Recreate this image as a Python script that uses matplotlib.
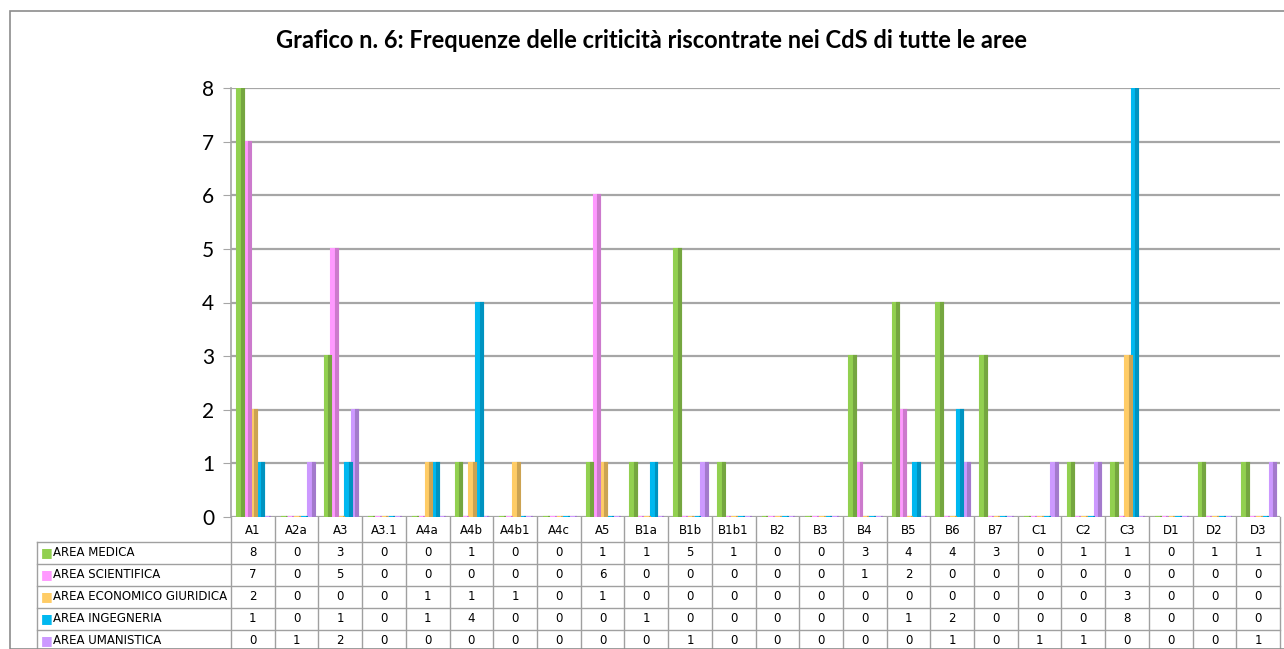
import numpy as np
import matplotlib
matplotlib.use('Agg')
import matplotlib.pyplot as plt
from matplotlib.colors import to_rgb

# Dati
categorie = ["A1", "A2a", "A3", "A3.1", "A4a", "A4b", "A4b1", "A4c", "A5", "B1a", "B1b", "B1b1",
             "B2", "B3", "B4", "B5", "B6", "B7", "C1", "C2", "C3", "D1", "D2", "D3"]
area_medica = [8, 0, 3, 0, 0, 1, 0, 0, 1, 1, 5, 1, 0, 0, 3, 4, 4, 3, 0, 1, 1, 0, 1, 1]
area_scientifica = [7, 0, 5, 0, 0, 0, 0, 0, 6, 0, 0, 0, 0, 0, 1, 2, 0, 0, 0, 0, 0, 0, 0, 0]
area_economico = [2, 0, 0, 0, 1, 1, 1, 0, 1, 0, 0, 0, 0, 0, 0, 0, 0, 0, 0, 0, 3, 0, 0, 0]
area_ingegneria = [1, 0, 1, 0, 1, 4, 0, 0, 0, 1, 0, 0, 0, 0, 0, 1, 2, 0, 0, 0, 8, 0, 0, 0]
area_umanistica = [0, 1, 2, 0, 0, 0, 0, 0, 0, 0, 1, 0, 0, 0, 0, 0, 1, 0, 1, 1, 0, 0, 0, 1]

serie = ["AREA MEDICA", "AREA SCIENTIFICA", "AREA ECONOMICO GIURIDICA", "AREA INGEGNERIA", "AREA UMANISTICA"]
valori = [area_medica, area_scientifica, area_economico, area_ingegneria, area_umanistica]
colori = ["#92D050", "#FF99FF", "#FFCC66", "#00B8F0", "#CC99FF"]

titolo = "Grafico n. 6: Frequenze delle criticità riscontrate nei CdS di tutte le aree"


def scurisci(c, f=0.7):
    r, g, b = to_rgb(c)
    return (r * f, g * f, b * f)


W, H = 1284, 649
fig = plt.figure(figsize=(W / 100, H / 100), dpi=100)

# riquadro esterno del grafico
fig.add_artist(plt.Rectangle((9.5 / W, 0), 2, 1 - 10.5 / H, transform=fig.transFigure,
                             fill=False, edgecolor="#8c8c8c", lw=1.2))

ax_left, ax_right = 231 / W, 1280 / W
ax_bottom, ax_top = 1 - 517 / H, 1 - 88 / H
ax = fig.add_axes([ax_left, ax_bottom, ax_right - ax_left, ax_top - ax_bottom])

n = len(categorie)
x = np.arange(n)
bw = 0.15
passo = 0.155
for i, (nome, vals, col) in enumerate(zip(serie, valori, colori)):
    pos = x - 0.36 + bw / 2 + i * passo
    ax.bar(pos, vals, width=bw, color=col, edgecolor=col, lw=1.5, zorder=3)
    # lato scuro per l'effetto 3D
    ax.bar(pos + bw / 2 - 0.02, vals, width=0.045, color=scurisci(col, 0.8),
           edgecolor=scurisci(col, 0.8), lw=1.5, zorder=4)

ax.set_xlim(-0.5, n - 0.5)
ax.set_ylim(0, 8)
ax.set_yticks(range(0, 9))
ax.set_xticks([])
ax.grid(axis="y", color="#a6a6a6", lw=1.6, zorder=0)
for s in ["top", "right", "bottom"]:
    ax.spines[s].set_visible(False)
ax.spines["left"].set_color("#a6a6a6")
ax.spines["left"].set_linewidth(1.2)
ax.tick_params(axis="y", length=6, color="#a6a6a6", labelsize=15, pad=6)
for t in ax.get_yticklabels():
    t.set_family("Lato")

# tabella dati sotto il grafico
ax_h = 517 - 88
def ay(px):
    return (517 - px) / ax_h

righe = [517, 542, 564, 586, 608, 630, 652]
trans = ax.get_xaxis_transform()
grigio = "#a0a0a0"
lab_x0 = -0.5 - (231 - 37) / ((1280 - 231) / n)

for j in range(n + 1):
    ax.plot([j - 0.5, j - 0.5], [ay(517), ay(652)], transform=trans, color=grigio, lw=1, clip_on=False)
ax.plot([lab_x0, lab_x0], [ay(542), ay(652)], transform=trans, color=grigio, lw=1, clip_on=False)
for k, yp in enumerate(righe[1:]):
    ax.plot([lab_x0, n - 0.5], [ay(yp), ay(yp)], transform=trans, color=grigio, lw=1, clip_on=False)

for j, c in enumerate(categorie):
    ax.text(j, ay(531), c, transform=trans, ha="center", va="center", fontsize=8.5,
            family="DejaVu Sans", clip_on=False)

for i, (nome, vals, col) in enumerate(zip(serie, valori, colori)):
    yc = ay((righe[i + 1] + righe[i + 2]) / 2)
    ax.text(lab_x0 + 0.08, yc, "\u25A0", transform=trans, ha="left", va="center", fontsize=9,
            color=col, clip_on=False)
    ax.text(lab_x0 + 0.36, yc, nome, transform=trans, ha="left", va="center", fontsize=8.5,
            family="DejaVu Sans", clip_on=False)
    for j, v in enumerate(vals):
        ax.text(j, yc, str(v), transform=trans, ha="center", va="center", fontsize=8.5,
                family="DejaVu Sans", clip_on=False)

fig.text(651 / W, 1 - 40 / H, titolo, ha="center", va="center", fontsize=17,
         fontweight="bold", family="Lato")

fig.savefig("out.png", dpi=100)
